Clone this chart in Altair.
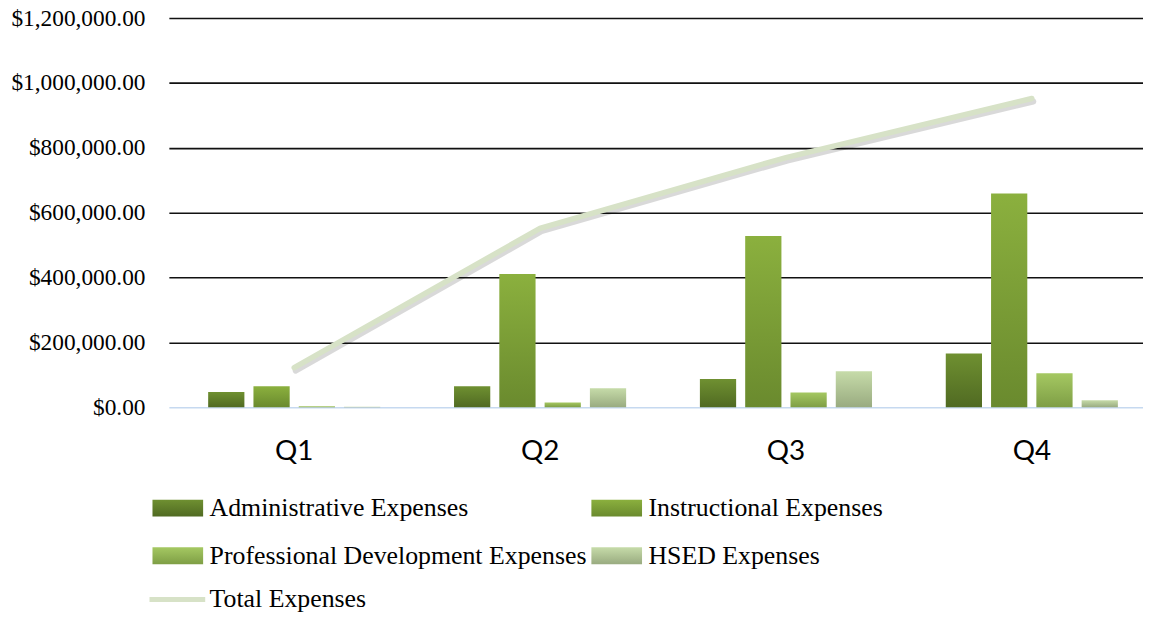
import altair as alt
import pandas as pd

quarters = ["Q1", "Q2", "Q3", "Q4"]
series = ["Administrative Expenses", "Instructional Expenses",
          "Professional Development Expenses", "HSED Expenses"]
admin = [47000, 65000, 87000, 166000]
instructional = [65000, 411000, 528000, 659000]
prof_dev = [3000, 15000, 46000, 105000]
hsed = [2000, 59000, 111000, 22000]
total = [122000, 552000, 770000, 952000]
y_ticks = [0, 200000, 400000, 600000, 800000, 1000000, 1200000]

# gradient colours (top, bottom) per series
grad_stops = [("#6f9031", "#506a22"), ("#8bb03e", "#6a8a2e"),
              ("#a5c862", "#7e9e45"), ("#c6dba9", "#99ab80")]
line_color = "#d7e2c7"

def grad_expr(top, bottom):
    return {"expr": "{gradient:'linear',x1:0,y1:0,x2:0,y2:1,stops:[{offset:0,color:'%s'},{offset:1,color:'%s'}]}" % (top, bottom)}

rows = []
for s, vals in zip(series, [admin, instructional, prof_dev, hsed]):
    for q, v in zip(quarters, vals):
        rows.append({"quarter": q, "series": s, "value": v})
bar_df = pd.DataFrame(rows)
total_df = pd.DataFrame({"quarter": quarters, "total": total, "label": ["Total Expenses"] * 4})

x_enc = alt.X("quarter:N", sort=quarters, title=None,
              scale=alt.Scale(paddingInner=0.3, paddingOuter=0.131, align=0.61),
              axis=alt.Axis(labelAngle=0, ticks=False, domain=False, labelPadding=31,
                            labelFont="Lato", labelFontSize=28, labelColor="black"))
y_axis = alt.Axis(format="$,.2f", values=y_ticks, title=None, domain=False, ticks=False,
                  labelPadding=24, labelFont="Liberation Serif", labelFontSize=23.5,
                  labelColor="black", grid=True, gridWidth=1.6,
                  gridColor={"condition": {"test": "datum.value === 0", "value": "#c6d9f0"},
                             "value": "#111111"})
y_scale = alt.Scale(domain=[0, 1200000], nice=False)

bars = alt.Chart(bar_df).mark_bar().encode(
    x=x_enc,
    xOffset=alt.XOffset("series:N", sort=series, scale=alt.Scale(paddingInner=0.2)),
    y=alt.Y("value:Q", scale=y_scale, axis=y_axis),
    color=alt.Color("series:N", sort=series,
                    scale=alt.Scale(domain=series, range=[grad_expr(a, b) for a, b in grad_stops]),
                    legend=alt.Legend(title=None, orient="none", legendX=-21, legendY=480.5,
                                      direction="horizontal", columns=2,
                                      symbolType="M-1,-1H5V1H-1Z", symbolSize=289,
                                      symbolStrokeWidth=0, symbolOpacity=1,
                                      labelOffset=36, rowPadding=22, columnPadding=-19,
                                      labelFont="Liberation Serif", labelFontSize=26,
                                      labelColor="black", labelLimit=600)),
)

shadow = alt.Chart(total_df).mark_line(color="#000000", opacity=0.15, strokeWidth=6,
                                       strokeCap="round", xOffset=1.5, yOffset=3).encode(
    x=x_enc,
    y=alt.Y("total:Q", scale=y_scale, axis=y_axis),
)

line = alt.Chart(total_df).mark_line(strokeWidth=5.5, strokeCap="round").encode(
    x=x_enc,
    y=alt.Y("total:Q", scale=y_scale, axis=y_axis),
    stroke=alt.Stroke("label:N", scale=alt.Scale(domain=["Total Expenses"], range=[line_color]),
                      legend=alt.Legend(title=None, orient="none", legendX=-24, legendY=572.5,
                                        symbolType="M-1,0H5.6", symbolSize=289,
                                        symbolStrokeWidth=5, labelOffset=39,
                                        labelFont="Liberation Serif", labelFontSize=26,
                                        labelColor="black", labelLimit=600)),
)

chart = alt.layer(bars, shadow, line).properties(
    width=981, height=392,
    background="white",
    autosize=alt.AutoSizeParams(type="none"),
    padding={"left": 162, "top": 8, "right": 0, "bottom": 205},
).configure_view(stroke=None)

chart.save("out.html", embed_options={"renderer": "svg", "actions": False})
